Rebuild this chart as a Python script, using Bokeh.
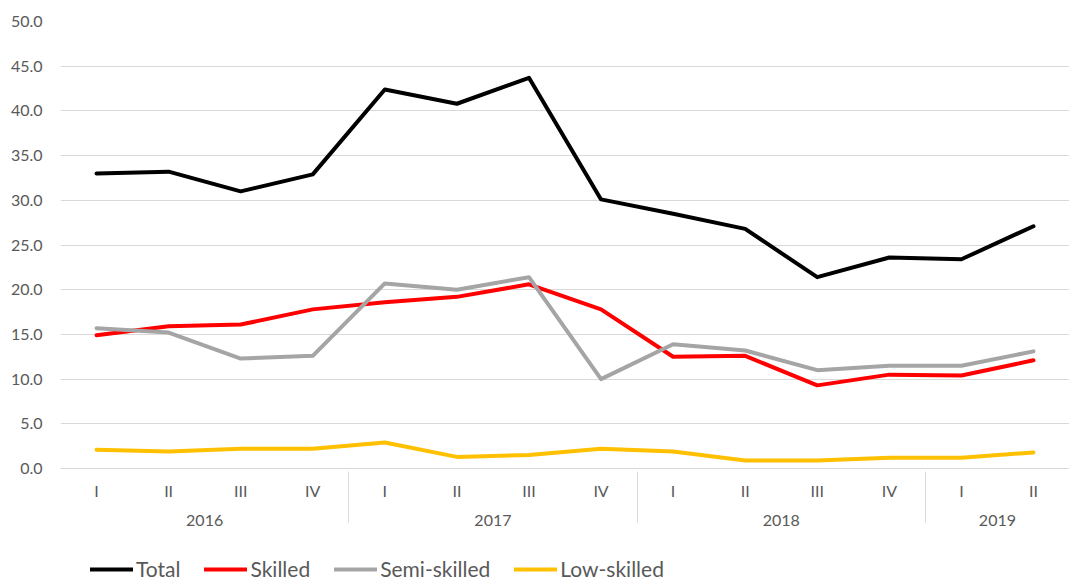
from bokeh.plotting import figure
from bokeh.layouts import column
from bokeh.models import FactorRange, Range1d, Legend, LegendItem, SingleIntervalTicker, NumeralTickFormatter
from bokeh.embed import file_html
from bokeh.resources import INLINE

years = ["2016", "2016", "2016", "2016", "2017", "2017", "2017", "2017",
         "2018", "2018", "2018", "2018", "2019", "2019"]
quarters = ["I", "II", "III", "IV", "I", "II", "III", "IV",
            "I", "II", "III", "IV", "I", "II"]

total = [33.0, 33.2, 31.0, 32.9, 42.4, 40.8, 43.7, 30.1, 28.5, 26.8, 21.4, 23.6, 23.4, 27.1]
skilled = [14.9, 15.9, 16.1, 17.8, 18.6, 19.2, 20.6, 17.8, 12.5, 12.6, 9.3, 10.5, 10.4, 12.1]
semi_skilled = [15.7, 15.2, 12.3, 12.6, 20.7, 20.0, 21.4, 10.0, 13.9, 13.2, 11.0, 11.5, 11.5, 13.1]
low_skilled = [2.1, 1.9, 2.2, 2.2, 2.9, 1.3, 1.5, 2.2, 1.9, 0.9, 0.9, 1.2, 1.2, 1.8]

series_names = ["Total", "Skilled", "Semi-skilled", "Low-skilled"]
series_colors = ["#000000", "#FF0000", "#A5A5A5", "#FFC000"]
series_values = [total, skilled, semi_skilled, low_skilled]

factors = list(zip(years, quarters))

FONT = "Lato"
TXT = "#595959"

def make_range():
    return FactorRange(*factors, factor_padding=0, group_padding=0, subgroup_padding=0, range_padding=0)

p = figure(x_range=make_range(), y_range=Range1d(0, 50), width=1069, height=540,
           output_backend="svg", toolbar_location=None,
           min_border_left=60, min_border_right=0, min_border_top=21, min_border_bottom=72)
p.outline_line_color = None
p.background_fill_color = "white"

p.ygrid.grid_line_color = "#D9D9D9"
p.ygrid.grid_line_width = 1
p.xgrid.grid_line_color = None

p.yaxis.ticker = SingleIntervalTicker(interval=5)
p.yaxis.formatter = NumeralTickFormatter(format="0.0")
p.yaxis.axis_line_color = None
p.yaxis.major_tick_line_color = None
p.yaxis.major_tick_out = 0
p.yaxis.minor_tick_line_color = None
p.yaxis.minor_tick_out = 0
p.yaxis.major_label_text_font = FONT
p.yaxis.major_label_text_font_size = "16px"
p.yaxis.major_label_text_color = TXT
p.yaxis.major_label_standoff = 18

xa = p.xaxis[0]
xa.axis_line_color = "#D9D9D9"
xa.major_tick_line_color = None
xa.major_tick_out = 0
xa.minor_tick_line_color = None
xa.minor_tick_out = 0
xa.major_label_text_font = FONT
xa.major_label_text_font_size = "16px"
xa.major_label_text_color = TXT
xa.major_label_standoff = 12
xa.group_text_font = FONT
xa.group_text_font_size = "16px"
xa.group_text_font_style = "normal"
xa.group_text_color = TXT
xa.separator_line_color = "#D9D9D9"
xa.separator_line_width = 1

for name, vals, col in zip(series_names, series_values, series_colors):
    p.line(x=factors, y=vals, line_color=col, line_width=4, line_join="round", line_cap="round")

# legend panel below the chart (series drawn again, but outside its visible y range)
p2 = figure(width=1069, height=41, x_range=make_range(), y_range=Range1d(1000, 1001),
            output_backend="svg", toolbar_location=None,
            x_axis_location=None, y_axis_location=None,
            min_border_left=0, min_border_right=0, min_border_top=0, min_border_bottom=0)
p2.outline_line_color = None
p2.grid.grid_line_color = None
items = []
for name, vals, col in zip(series_names, series_values, series_colors):
    r = p2.line(x=factors, y=vals, line_color=col, line_width=4, line_cap="round")
    items.append(LegendItem(label=name, renderers=[r]))

legend = Legend(items=items, orientation="horizontal", location=(30, 0),
                label_text_font=FONT, label_text_font_size="21px", label_text_color=TXT,
                glyph_width=43, glyph_height=22, label_standoff=3, spacing=24,
                border_line_color=None, background_fill_alpha=0, padding=0, margin=0)
p2.add_layout(legend, "center")

layout = column(p, p2, spacing=0)
open("out.html", "w").write(file_html(layout, INLINE))
